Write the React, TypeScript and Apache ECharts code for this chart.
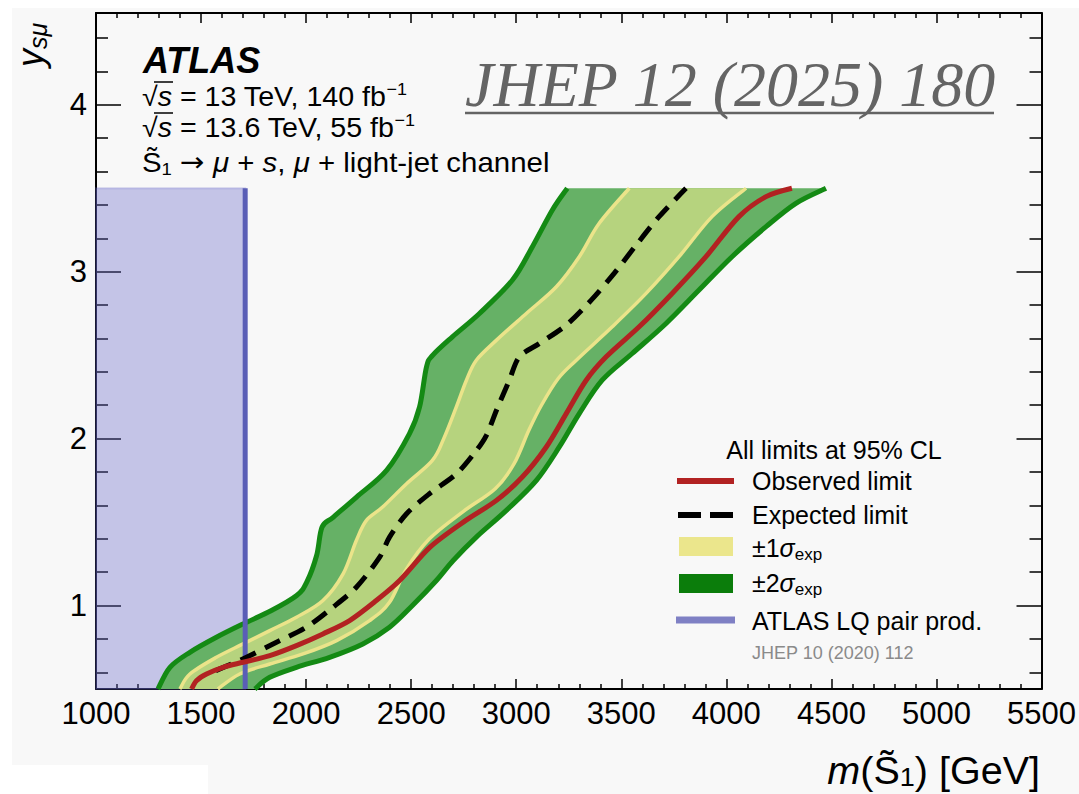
import React, { useEffect, useRef } from "react";
import * as echarts from "echarts";

const FONT = "'Liberation Sans', Arial, Helvetica, sans-serif";
const SERIF = "'Liberation Serif', 'Times New Roman', serif";

// ---- axis ticks ----
const xMin = 1000;
const xMax = 5500;
const xInterval = 500;
const yMin = 0.5;
const yMax = 4.55;
const yMajorTicks = [1, 2, 3, 4];
const yMinorTicks = [0.6, 0.8, 1.2, 1.4, 1.6, 1.8, 2.2, 2.4, 2.6, 2.8, 3.2, 3.4, 3.6, 3.8, 4.2, 4.4];

// ---- curves: [mass (GeV), y_smu] ----
const twoSigmaLeft = [
  [1295, 0.5], [1352, 0.63], [1447, 0.72], [1573, 0.81], [1700, 0.89], [1835, 0.97],
  [1955, 1.06], [2003, 1.14], [2050, 1.3], [2076, 1.47], [2130, 1.53], [2240, 1.65],
  [2383, 1.81], [2492, 2.03], [2540, 2.19], [2573, 2.43], [2603, 2.5], [2696, 2.61],
  [2825, 2.75], [2982, 2.95], [3077, 3.15], [3172, 3.37], [3243, 3.5],
];
const oneSigmaLeft = [
  [1399, 0.5], [1447, 0.59], [1573, 0.69], [1700, 0.77], [1827, 0.85], [1954, 0.93],
  [2080, 1.03], [2176, 1.19], [2239, 1.39], [2287, 1.51], [2364, 1.59], [2478, 1.73],
  [2601, 1.87], [2655, 2.0], [2715, 2.19], [2763, 2.35], [2810, 2.47], [2906, 2.59],
  [3048, 2.75], [3191, 2.91], [3300, 3.09], [3395, 3.29], [3538, 3.5],
];
const expected = [
  [1570, 0.61], [1716, 0.69], [1859, 0.78], [2001, 0.87], [2128, 0.99], [2239, 1.11],
  [2350, 1.29], [2397, 1.41], [2478, 1.55], [2587, 1.67], [2716, 1.79], [2811, 1.93],
  [2858, 2.02], [2906, 2.17], [2967, 2.35], [3015, 2.49], [3110, 2.57], [3238, 2.68],
  [3357, 2.83], [3466, 2.99], [3571, 3.16], [3680, 3.33], [3808, 3.5],
];
const oneSigmaRight = [
  [1580, 0.5], [1684, 0.59], [1827, 0.65], [1985, 0.71], [2145, 0.79], [2302, 0.91],
  [2397, 1.02], [2478, 1.22], [2587, 1.4], [2744, 1.56], [2900, 1.7], [2990, 1.85],
  [3060, 2.05], [3120, 2.2], [3200, 2.36], [3286, 2.47], [3457, 2.67], [3618, 2.87],
  [3775, 3.09], [3932, 3.33], [4094, 3.5],
];
const twoSigmaRight = [
  [1756, 0.5], [1827, 0.57], [1954, 0.63], [2112, 0.69], [2270, 0.77], [2397, 0.87],
  [2506, 1.0], [2620, 1.15], [2700, 1.27], [2810, 1.41], [2953, 1.57], [3096, 1.75],
  [3205, 1.95], [3300, 2.15], [3409, 2.35], [3552, 2.51], [3713, 2.69], [3870, 2.89],
  [4027, 3.09], [4189, 3.27], [4331, 3.41], [4474, 3.5],
];
const observed = [
  [1455, 0.5], [1478, 0.55], [1526, 0.59], [1605, 0.63], [1700, 0.66], [1827, 0.7],
  [1954, 0.76], [2080, 0.83], [2207, 0.91], [2334, 1.03], [2445, 1.15], [2590, 1.35],
  [2760, 1.51], [2906, 1.63], [3029, 1.77], [3143, 1.95], [3238, 2.15], [3333, 2.35],
  [3428, 2.49], [3585, 2.67], [3742, 2.87], [3903, 3.09], [4060, 3.33], [4189, 3.45],
  [4312, 3.5],
];
const lqPairLimit = [[1710, 0.5], [1710, 3.5]];
const lqExcludedCorner = [[1000, 0.5], [1710, 3.5]];

// ---- colours ----
const C_TWO_FILL = "#66b166";
const C_TWO_EDGE = "#148a14";
const C_ONE_FILL = "#b6d37e";
const C_ONE_EDGE = "#ebe48a";
const C_OBS = "#b22222";
const C_LQ_LINE = "#5a5eb6";

// smooth spline shape (catmull-rom -> bezier), optionally closed band
function spline(ctx: any, p: number[][], move: boolean) {
  if (!p.length) return;
  if (move) ctx.moveTo(p[0][0], p[0][1]);
  const t = 1 / 6;
  for (let i = 0; i < p.length - 1; i++) {
    const p0 = p[Math.max(i - 1, 0)];
    const p1 = p[i];
    const p2 = p[i + 1];
    const p3 = p[Math.min(i + 2, p.length - 1)];
    ctx.bezierCurveTo(
      p1[0] + (p2[0] - p0[0]) * t, p1[1] + (p2[1] - p0[1]) * t,
      p2[0] - (p3[0] - p1[0]) * t, p2[1] - (p3[1] - p1[1]) * t,
      p2[0], p2[1]
    );
  }
}
const SmoothBand = (echarts as any).graphic.extendShape({
  type: "smoothBand",
  shape: { a: [], b: [] },
  buildPath(ctx: any, shape: any) {
    spline(ctx, shape.a, true);
    if (shape.b && shape.b.length) {
      const rb = shape.b.slice().reverse();
      ctx.lineTo(rb[0][0], rb[0][1]);
      spline(ctx, rb, false);
      ctx.closePath();
    }
  },
});
(echarts as any).graphic.registerShape("smoothBand", SmoothBand);

function bandSeries(name: string, left: number[][], right: number[][], fill: string, edge: string, edgeWidth: number, z: number) {
  return {
    name,
    type: "custom",
    coordinateSystem: "cartesian2d",
    xAxisIndex: 0,
    yAxisIndex: 0,
    silent: true,
    z,
    data: [[left[0][0], left[0][1]]],
    renderItem: (_p: any, api: any) => {
      const a = left.map((d) => api.coord(d));
      const b = right.map((d) => api.coord(d));
      return {
        type: "group",
        children: [
          { type: "smoothBand", shape: { a, b }, style: { fill, stroke: "none" } },
          { type: "smoothBand", shape: { a, b: [] }, style: { fill: "none", stroke: edge, lineWidth: edgeWidth } },
          { type: "smoothBand", shape: { a: b, b: [] }, style: { fill: "none", stroke: edge, lineWidth: edgeWidth } },
        ],
      };
    },
  };
}

function T(text: string, x: number, y: number, size: number, extra: any = {}, rich?: any) {
  return {
    type: "text",
    x,
    y,
    z: 100,
    silent: true,
    ...(extra.el || {}),
    style: {
      text,
      fontFamily: FONT,
      fontSize: size,
      fill: "#000",
      verticalAlign: "middle",
      align: "left",
      lineHeight: size * 1.2,
      ...(rich ? { rich } : {}),
      ...(extra.style || {}),
    },
  };
}

function buildOption() {
  const tickStyle = { color: "#000", width: 1.5 };
  const axisLine = { show: true, onZero: false, lineStyle: { color: "#000", width: 2 } };
  const xBase = (pos: string, labels: boolean) => ({
    type: "value",
    position: pos,
    min: xMin,
    max: xMax,
    interval: xInterval,
    axisLine,
    axisTick: { show: true, inside: true, length: 10, lineStyle: tickStyle },
    minorTick: { show: true, splitNumber: 5, length: 5, lineStyle: tickStyle },
    axisLabel: labels
      ? { show: true, fontFamily: FONT, fontSize: 31, color: "#000", margin: 9, formatter: (v: number) => String(v) }
      : { show: false },
    splitLine: { show: false },
    minorSplitLine: { show: false },
  });
  const yBase = (pos: string, major: boolean, labels: boolean) => ({
    type: "value",
    position: pos,
    min: yMin,
    max: yMax,
    axisLine: major ? axisLine : { show: false },
    axisTick: {
      show: true,
      inside: true,
      length: major ? 25 : 12,
      customValues: major ? yMajorTicks : yMinorTicks,
      lineStyle: tickStyle,
    },
    axisLabel: labels
      ? { show: true, customValues: yMajorTicks, fontFamily: FONT, fontSize: 31, color: "#000", margin: 9, formatter: (v: number) => String(v) }
      : { show: false },
    splitLine: { show: false },
  });

  const lw = 27;
  const mainRich = {
    it: { fontFamily: FONT, fontSize: lw, fontStyle: "italic", lineHeight: 32 },
    ar: { fontFamily: "'DejaVu Sans', sans-serif", fontSize: lw, lineHeight: 32 },
    sup: { fontFamily: FONT, fontSize: 17, lineHeight: 17, verticalAlign: "top" },
    sub: { fontFamily: FONT, fontSize: 17, lineHeight: 17, verticalAlign: "bottom" },
  };
  const stretch = { scaleX: 1.06 };

  const legX = 679;
  const legTextX = 752;

  const graphic: any[] = [
    // ATLAS label block
    T("ATLAS", 143, 60, 36, { style: { fontWeight: "bold", fontStyle: "italic" } }),
    T("√{it|s} = 13 TeV, 140 fb{sup|−1}", 142, 97, lw, { el: stretch, style: { lineHeight: 32 } }, mainRich),
    { type: "line", z: 100, silent: true, shape: { x1: 154, y1: 82, x2: 173, y2: 82 }, style: { stroke: "#000", lineWidth: 1.5 } },
    T("√{it|s} = 13.6 TeV, 55 fb{sup|−1}", 142, 128, lw, { el: stretch, style: { lineHeight: 32 } }, mainRich),
    { type: "line", z: 100, silent: true, shape: { x1: 154, y1: 113, x2: 173, y2: 113 }, style: { stroke: "#000", lineWidth: 1.5 } },
    T("S\u0303{sub|1} {ar|→} {it|μ} + {it|s}, {it|μ} + light-jet channel", 142, 162, lw, { el: { scaleX: 1.09 }, style: { lineHeight: 32 } }, mainRich),

    // journal reference
    T("JHEP 12 (2025) 180", 465, 84, 64, { style: { fontFamily: SERIF, fontStyle: "italic", fill: "#646464" } }),
    { type: "line", z: 100, silent: true, shape: { x1: 465, y1: 113, x2: 994, y2: 113 }, style: { stroke: "#646464", lineWidth: 2.5 } },

    // axis titles
    T("{i|y}{sub|sμ}", 30, 45, 36, {
      el: { rotation: Math.PI / 2 },
      style: { align: "center", lineHeight: 40 },
    }, {
      i: { fontFamily: FONT, fontSize: 36, fontStyle: "italic", lineHeight: 40 },
      sub: { fontFamily: FONT, fontSize: 25, fontStyle: "italic", lineHeight: 25, verticalAlign: "bottom" },
    }),
    T("{i|m}(S\u0303{sub|1}) [GeV]", 1040, 771, 38, { el: { scaleX: 1.04, originX: 1040 - 1040 }, style: { align: "right", lineHeight: 38 } }, {
      i: { fontFamily: FONT, fontSize: 38, fontStyle: "italic", lineHeight: 38 },
      sub: { fontFamily: FONT, fontSize: 26, lineHeight: 26, verticalAlign: "bottom" },
    }),

    // legend
    T("All limits at 95% CL", 834, 450, 25, { style: { align: "center" } }),
    { type: "line", z: 100, silent: true, shape: { x1: 677, y1: 481, x2: 734, y2: 481 }, style: { stroke: C_OBS, lineWidth: 6 } },
    T("Observed limit", legTextX, 481, 25),
    { type: "line", z: 100, silent: true, shape: { x1: 678, y1: 515, x2: 701, y2: 515 }, style: { stroke: "#000", lineWidth: 6 } },
    { type: "line", z: 100, silent: true, shape: { x1: 710, y1: 515, x2: 733, y2: 515 }, style: { stroke: "#000", lineWidth: 6 } },
    T("Expected limit", legTextX, 515, 25),
    { type: "rect", z: 100, silent: true, shape: { x: legX, y: 537, width: 54, height: 19 }, style: { fill: "#ebe68c" } },
    T("±1{s|σ}{e|exp}", legTextX, 548, 25, { style: { lineHeight: 30 } }, {
      s: { fontFamily: FONT, fontSize: 25, fontStyle: "italic", lineHeight: 30 },
      e: { fontFamily: FONT, fontSize: 17, lineHeight: 17, verticalAlign: "bottom" },
    }),
    { type: "rect", z: 100, silent: true, shape: { x: legX, y: 574, width: 54, height: 19 }, style: { fill: "#0b7d0b" } },
    T("±2{s|σ}{e|exp}", legTextX, 583, 25, { style: { lineHeight: 30 } }, {
      s: { fontFamily: FONT, fontSize: 25, fontStyle: "italic", lineHeight: 30 },
      e: { fontFamily: FONT, fontSize: 17, lineHeight: 17, verticalAlign: "bottom" },
    }),
    { type: "line", z: 100, silent: true, shape: { x1: 676, y1: 620, x2: 735, y2: 620 }, style: { stroke: "#7f80c4", lineWidth: 7 } },
    T("ATLAS LQ pair prod.", legTextX, 621, 25),
    T("JHEP 10 (2020) 112", legTextX, 653, 18, { style: { fill: "#8a8a8a" } }),
  ];

  return {
    animation: false,
    backgroundColor: "transparent",
    grid: { left: 96, right: 36, top: 13, bottom: 105, containLabel: false },
    xAxis: [xBase("bottom", true), xBase("top", false)],
    yAxis: [
      yBase("left", true, true),
      yBase("left", false, false),
      yBase("right", true, false),
      yBase("right", false, false),
    ],
    series: [
      bandSeries("±2σ_exp", twoSigmaLeft, twoSigmaRight, C_TWO_FILL, C_TWO_EDGE, 5, 2),
      bandSeries("±1σ_exp", oneSigmaLeft, oneSigmaRight, C_ONE_FILL, C_ONE_EDGE, 3.5, 3),
      {
        name: "ATLAS LQ pair prod.",
        type: "line",
        xAxisIndex: 0,
        yAxisIndex: 0,
        z: 4,
        data: lqPairLimit,
        symbol: "none",
        silent: true,
        lineStyle: { color: C_LQ_LINE, width: 5 },
        markArea: {
          silent: true,
          itemStyle: { color: "rgba(100,100,200,0.35)", borderColor: "rgba(100,100,200,0.25)", borderWidth: 2 },
          data: [[{ coord: lqExcludedCorner[0] }, { coord: lqExcludedCorner[1] }]],
        },
      },
      {
        name: "Expected limit",
        type: "line",
        xAxisIndex: 0,
        yAxisIndex: 0,
        z: 5,
        data: expected,
        symbol: "none",
        smooth: 0.3,
        silent: true,
        lineStyle: { color: "#000", width: 5, type: [17, 10], cap: "butt" },
      },
      {
        name: "Observed limit",
        type: "line",
        xAxisIndex: 0,
        yAxisIndex: 0,
        z: 6,
        data: observed,
        symbol: "none",
        smooth: 0.3,
        silent: true,
        lineStyle: { color: C_OBS, width: 5 },
      },
    ],
    graphic,
  };
}

export default function App() {
  const ref = useRef<HTMLDivElement>(null);
  useEffect(() => {
    if (!ref.current) return;
    const chart = echarts.init(ref.current, undefined, { renderer: "svg" });
    chart.setOption(buildOption() as any);
    return () => chart.dispose();
  }, []);
  return (
    <div style={{ position: "fixed", left: 0, top: 0, width: 1079, height: 794, background: "#ffffff", overflow: "hidden" }}>
      <div style={{ position: "absolute", left: 12, top: 8, width: 1067, height: 786, background: "#f8f8f8" }} />
      <div style={{ position: "absolute", left: 0, top: 765, width: 208, height: 29, background: "#ffffff" }} />
      <div ref={ref} style={{ position: "absolute", left: 0, top: 0, width: 1079, height: 794 }} />
    </div>
  );
}
